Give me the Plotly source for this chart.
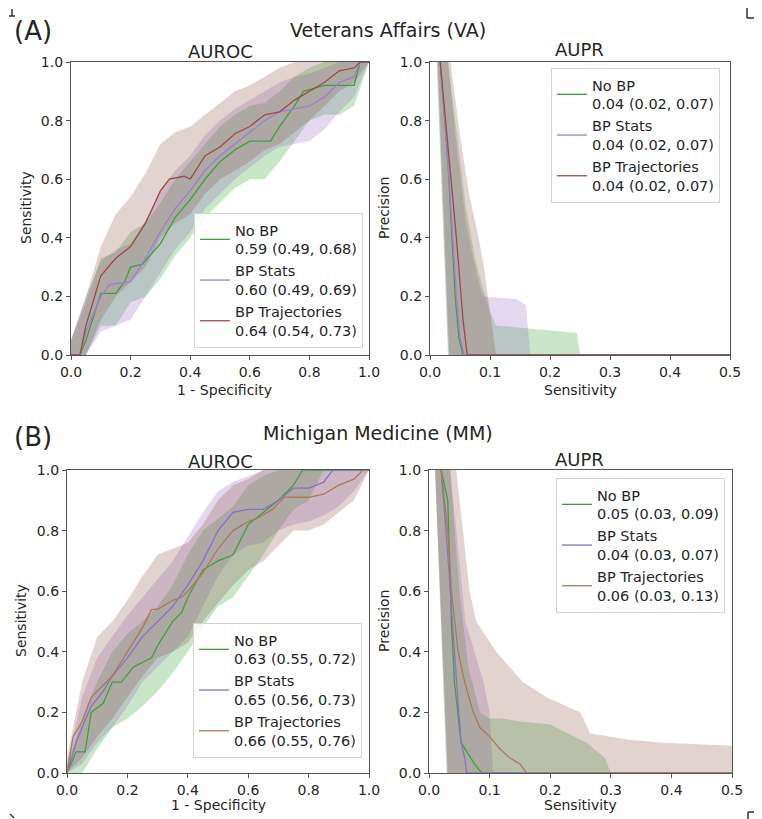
import plotly.graph_objects as go

# ---------------- data ----------------
series_names = ["No BP", "BP Stats", "BP Trajectories"]
va_roc_auc = ["0.59 (0.49, 0.68)", "0.60 (0.49, 0.69)", "0.64 (0.54, 0.73)"]
va_pr_auc = ["0.04 (0.02, 0.07)", "0.04 (0.02, 0.07)", "0.04 (0.02, 0.07)"]
mm_roc_auc = ["0.63 (0.55, 0.72)", "0.65 (0.56, 0.73)", "0.66 (0.55, 0.76)"]
mm_pr_auc = ["0.05 (0.03, 0.09)", "0.04 (0.03, 0.07)", "0.06 (0.03, 0.13)"]

fpr_grid = [0, 0.05, 0.1, 0.15, 0.2, 0.25, 0.3, 0.35, 0.4, 0.45, 0.5,
            0.55, 0.6, 0.65, 0.7, 0.75, 0.8, 0.85, 0.9, 0.95, 1.0]

# VA ROC curves
va_roc_nobp_x = [0, 0.03, 0.05, 0.08, 0.1, 0.15, 0.18, 0.2, 0.24, 0.3, 0.35, 0.4, 0.45, 0.5, 0.55, 0.6, 0.67, 0.7, 0.75, 0.78, 0.85, 0.95, 0.97, 1.0]
va_roc_nobp_y = [0, 0, 0.05, 0.15, 0.21, 0.21, 0.25, 0.3, 0.31, 0.38, 0.47, 0.53, 0.6, 0.66, 0.7, 0.73, 0.73, 0.78, 0.85, 0.9, 0.92, 0.92, 1.0, 1.0]
va_roc_stats_x = [0, 0.03, 0.05, 0.1, 0.13, 0.2, 0.25, 0.3, 0.35, 0.4, 0.45, 0.5, 0.55, 0.6, 0.65, 0.7, 0.75, 0.8, 0.85, 0.9, 0.95, 0.97, 1.0]
va_roc_stats_y = [0, 0, 0.08, 0.2, 0.24, 0.25, 0.33, 0.42, 0.5, 0.56, 0.63, 0.68, 0.72, 0.76, 0.8, 0.83, 0.84, 0.85, 0.88, 0.93, 0.95, 1.0, 1.0]
va_roc_traj_x = [0, 0.03, 0.05, 0.1, 0.15, 0.2, 0.25, 0.3, 0.33, 0.38, 0.4, 0.45, 0.5, 0.55, 0.6, 0.65, 0.7, 0.75, 0.8, 0.85, 0.9, 0.95, 0.97, 1.0]
va_roc_traj_y = [0, 0, 0.1, 0.27, 0.33, 0.37, 0.45, 0.56, 0.6, 0.61, 0.6, 0.68, 0.71, 0.755, 0.78, 0.82, 0.83, 0.87, 0.9, 0.93, 0.97, 0.98, 1.0, 1.0]
va_roc_nobp_lo = [0, 0, 0.1, 0.1, 0.18, 0.2, 0.26, 0.34, 0.4, 0.47, 0.52, 0.57, 0.6, 0.6, 0.66, 0.73, 0.8, 0.82, 0.82, 0.85, 1.0]
va_roc_nobp_hi = [0.05, 0.18, 0.33, 0.35, 0.42, 0.45, 0.52, 0.6, 0.66, 0.72, 0.78, 0.82, 0.85, 0.86, 0.9, 0.95, 0.98, 1, 1, 1, 1]
va_roc_stats_lo = [0, 0, 0.08, 0.1, 0.12, 0.2, 0.28, 0.36, 0.42, 0.5, 0.55, 0.6, 0.64, 0.68, 0.71, 0.72, 0.73, 0.77, 0.83, 0.88, 1.0]
va_roc_stats_hi = [0.05, 0.2, 0.32, 0.36, 0.38, 0.46, 0.56, 0.63, 0.68, 0.75, 0.8, 0.84, 0.87, 0.9, 0.93, 0.95, 0.96, 0.98, 1, 1, 1]
va_roc_traj_lo = [0, 0, 0.12, 0.2, 0.25, 0.3, 0.4, 0.45, 0.48, 0.55, 0.6, 0.63, 0.66, 0.7, 0.72, 0.76, 0.8, 0.85, 0.9, 0.93, 1.0]
va_roc_traj_hi = [0.05, 0.2, 0.37, 0.48, 0.54, 0.62, 0.72, 0.76, 0.78, 0.82, 0.86, 0.9, 0.92, 0.95, 0.98, 1, 1, 1, 1, 1, 1]

# VA PR curves
va_pr_nobp_x = [0.017, 0.03, 0.042, 0.048, 0.055, 0.5]
va_pr_nobp_y = [1.0, 0.65, 0.2, 0.06, 0.0, 0.0]
va_pr_stats_x = [0.017, 0.03, 0.044, 0.05, 0.057, 0.5]
va_pr_stats_y = [1.0, 0.66, 0.2, 0.06, 0.0, 0.0]
va_pr_traj_x = [0.017, 0.03, 0.044, 0.055, 0.062, 0.5]
va_pr_traj_y = [1.0, 0.72, 0.4, 0.12, 0.0, 0.0]
va_pr_nobp_hi_x = [0.011, 0.03, 0.045, 0.06, 0.075, 0.085, 0.1, 0.11, 0.17, 0.2, 0.245, 0.25, 0.5]
va_pr_nobp_hi_y = [1.0, 1.0, 0.75, 0.5, 0.33, 0.25, 0.15, 0.1, 0.09, 0.085, 0.075, 0.0, 0.0]
va_pr_nobp_lo_x = [0.011, 0.03, 0.5]
va_pr_nobp_lo_y = [1.0, 0.0, 0.0]
va_pr_stats_hi_x = [0.012, 0.03, 0.045, 0.06, 0.075, 0.085, 0.09, 0.145, 0.16, 0.167, 0.5]
va_pr_stats_hi_y = [1.0, 1.0, 0.7, 0.45, 0.3, 0.22, 0.2, 0.19, 0.17, 0.0, 0.0]
va_pr_stats_lo_x = [0.012, 0.031, 0.5]
va_pr_stats_lo_y = [1.0, 0.0, 0.0]
va_pr_traj_hi_x = [0.013, 0.034, 0.05, 0.065, 0.08, 0.09, 0.097, 0.11, 0.5]
va_pr_traj_hi_y = [1.0, 1.0, 0.75, 0.55, 0.41, 0.3, 0.19, 0.0, 0.0]
va_pr_traj_lo_x = [0.013, 0.032, 0.5]
va_pr_traj_lo_y = [1.0, 0.0, 0.0]

# MM ROC curves
mm_roc_nobp_x = [0, 0.03, 0.06, 0.08, 0.12, 0.15, 0.18, 0.22, 0.28, 0.3, 0.35, 0.38, 0.4, 0.45, 0.5, 0.55, 0.6, 0.65, 0.7, 0.75, 0.78, 1.0]
mm_roc_nobp_y = [0, 0.07, 0.07, 0.2, 0.23, 0.3, 0.3, 0.35, 0.38, 0.42, 0.5, 0.53, 0.58, 0.67, 0.7, 0.72, 0.82, 0.86, 0.9, 0.95, 1.0, 1.0]
mm_roc_stats_x = [0, 0.03, 0.05, 0.08, 0.12, 0.15, 0.2, 0.25, 0.3, 0.35, 0.4, 0.45, 0.5, 0.55, 0.6, 0.65, 0.7, 0.75, 0.8, 0.85, 0.88, 1.0]
mm_roc_stats_y = [0, 0.1, 0.15, 0.22, 0.27, 0.32, 0.38, 0.45, 0.5, 0.55, 0.62, 0.7, 0.8, 0.86, 0.87, 0.87, 0.9, 0.94, 0.94, 0.96, 1.0, 1.0]
mm_roc_traj_x = [0, 0.02, 0.05, 0.08, 0.1, 0.15, 0.2, 0.25, 0.28, 0.3, 0.35, 0.38, 0.4, 0.45, 0.5, 0.55, 0.6, 0.63, 0.68, 0.72, 0.8, 0.85, 0.9, 0.95, 0.98, 1.0]
mm_roc_traj_y = [0, 0.12, 0.17, 0.25, 0.27, 0.32, 0.4, 0.48, 0.54, 0.54, 0.57, 0.58, 0.6, 0.66, 0.74, 0.8, 0.83, 0.84, 0.87, 0.91, 0.91, 0.92, 0.95, 0.97, 1.0, 1.0]
mm_roc_nobp_lo = [0, 0, 0.08, 0.15, 0.18, 0.22, 0.27, 0.33, 0.4, 0.48, 0.55, 0.58, 0.65, 0.72, 0.8, 0.87, 0.9, 1, 1, 1, 1]
mm_roc_nobp_hi = [0.02, 0.18, 0.3, 0.4, 0.46, 0.5, 0.55, 0.62, 0.72, 0.8, 0.84, 0.88, 0.95, 0.98, 1, 1, 1, 1, 1, 1, 1]
mm_roc_stats_lo = [0, 0.03, 0.1, 0.15, 0.22, 0.3, 0.35, 0.4, 0.45, 0.55, 0.65, 0.72, 0.75, 0.76, 0.8, 0.82, 0.83, 0.85, 0.88, 0.93, 1.0]
mm_roc_stats_hi = [0.03, 0.25, 0.38, 0.45, 0.52, 0.58, 0.64, 0.7, 0.78, 0.86, 0.93, 0.96, 0.98, 1, 1, 1, 1, 1, 1, 1, 1]
mm_roc_traj_lo = [0, 0.05, 0.12, 0.18, 0.25, 0.32, 0.38, 0.4, 0.43, 0.5, 0.56, 0.62, 0.67, 0.7, 0.75, 0.8, 0.8, 0.82, 0.86, 0.9, 1.0]
mm_roc_traj_hi = [0.05, 0.3, 0.45, 0.5, 0.57, 0.65, 0.72, 0.74, 0.76, 0.82, 0.9, 0.95, 0.97, 1, 1, 1, 1, 1, 1, 1, 1]

# MM PR curves
mm_pr_nobp_x = [0.02, 0.031, 0.037, 0.042, 0.053, 0.062, 0.075, 0.087, 0.5]
mm_pr_nobp_y = [1.0, 0.9, 0.5, 0.3, 0.1, 0.07, 0.03, 0.0, 0.0]
mm_pr_stats_x = [0.02, 0.03, 0.042, 0.053, 0.059, 0.062, 0.5]
mm_pr_stats_y = [1.0, 0.75, 0.4, 0.1, 0.05, 0.0, 0.0]
mm_pr_traj_x = [0.02, 0.031, 0.037, 0.048, 0.059, 0.073, 0.084, 0.1, 0.117, 0.133, 0.15, 0.161, 0.5]
mm_pr_traj_y = [1.0, 0.8, 0.6, 0.4, 0.3, 0.2, 0.15, 0.12, 0.08, 0.05, 0.03, 0.0, 0.0]
mm_pr_nobp_hi_x = [0.01, 0.035, 0.05, 0.065, 0.084, 0.1, 0.12, 0.15, 0.2, 0.23, 0.26, 0.29, 0.3, 0.5]
mm_pr_nobp_hi_y = [1.0, 1.0, 0.6, 0.35, 0.2, 0.18, 0.18, 0.17, 0.16, 0.13, 0.1, 0.05, 0.0, 0.0]
mm_pr_nobp_lo_x = [0.01, 0.029, 0.5]
mm_pr_nobp_lo_y = [1.0, 0.0, 0.0]
mm_pr_stats_hi_x = [0.01, 0.035, 0.05, 0.06, 0.075, 0.09, 0.1, 0.106, 0.5]
mm_pr_stats_hi_y = [1.0, 1.0, 0.7, 0.5, 0.4, 0.3, 0.2, 0.0, 0.0]
mm_pr_stats_lo_x = [0.01, 0.03, 0.5]
mm_pr_stats_lo_y = [1.0, 0.0, 0.0]
mm_pr_traj_hi_x = [0.01, 0.045, 0.056, 0.067, 0.078, 0.095, 0.111, 0.155, 0.194, 0.227, 0.25, 0.266, 0.33, 0.387, 0.5]
mm_pr_traj_hi_y = [1.0, 1.0, 0.8, 0.6, 0.5, 0.45, 0.4, 0.3, 0.25, 0.22, 0.2, 0.13, 0.11, 0.1, 0.09]
mm_pr_traj_lo_x = [0.01, 0.031, 0.5]
mm_pr_traj_lo_y = [1.0, 0.0, 0.0]

# ---------------- styling ----------------
W, H = 762, 819
OFF = 8  # page body margin of the html page
TXT = "#262626"
AX = "#555555"
FONT = "DejaVu Sans"
line_colors_va = ["#3f9f3f", "#9a80d0", "#a04848"]
line_colors_mm = ["#3f9f3f", "#8a70c8", "#a87a5a"]
fill_colors = ["rgba(44,160,44,0.26)", "rgba(148,103,189,0.26)", "rgba(140,86,75,0.26)"]


def px(x):
    return (x - OFF) / W


def py(y):
    return 1 - (y - OFF) / H


fig = go.Figure()


def add_band(xh, yh, xl, yl, color, xa, ya):
    fig.add_trace(go.Scatter(
        x=list(xh) + list(xl)[::-1], y=list(yh) + list(yl)[::-1],
        fill="toself", fillcolor=color, mode="lines", line=dict(width=0),
        hoverinfo="skip", showlegend=False, xaxis=xa, yaxis=ya))


def add_line(x, y, color, name, legend, xa, ya):
    fig.add_trace(go.Scatter(
        x=x, y=y, mode="lines", line=dict(color=color, width=1.3),
        name=name, legend=legend, showlegend=True, xaxis=xa, yaxis=ya))


# Panel A - AUROC
roc_va = [(va_roc_nobp_x, va_roc_nobp_y, va_roc_nobp_lo, va_roc_nobp_hi),
          (va_roc_stats_x, va_roc_stats_y, va_roc_stats_lo, va_roc_stats_hi),
          (va_roc_traj_x, va_roc_traj_y, va_roc_traj_lo, va_roc_traj_hi)]
for i, (x, y, lo, hi) in enumerate(roc_va):
    add_band(fpr_grid, hi, fpr_grid, lo, fill_colors[i], "x", "y")
for i, (x, y, lo, hi) in enumerate(roc_va):
    add_line(x, y, line_colors_va[i], series_names[i] + "<br>" + va_roc_auc[i], "legend", "x", "y")

# Panel A - AUPR
pr_va = [(va_pr_nobp_x, va_pr_nobp_y, va_pr_nobp_hi_x, va_pr_nobp_hi_y, va_pr_nobp_lo_x, va_pr_nobp_lo_y),
         (va_pr_stats_x, va_pr_stats_y, va_pr_stats_hi_x, va_pr_stats_hi_y, va_pr_stats_lo_x, va_pr_stats_lo_y),
         (va_pr_traj_x, va_pr_traj_y, va_pr_traj_hi_x, va_pr_traj_hi_y, va_pr_traj_lo_x, va_pr_traj_lo_y)]
for i, s in enumerate(pr_va):
    add_band(s[2], s[3], s[4], s[5], fill_colors[i], "x2", "y2")
for i, s in enumerate(pr_va):
    add_line(s[0], s[1], line_colors_va[i], series_names[i] + "<br>" + va_pr_auc[i], "legend2", "x2", "y2")

# Panel B - AUROC
roc_mm = [(mm_roc_nobp_x, mm_roc_nobp_y, mm_roc_nobp_lo, mm_roc_nobp_hi),
          (mm_roc_stats_x, mm_roc_stats_y, mm_roc_stats_lo, mm_roc_stats_hi),
          (mm_roc_traj_x, mm_roc_traj_y, mm_roc_traj_lo, mm_roc_traj_hi)]
for i, (x, y, lo, hi) in enumerate(roc_mm):
    add_band(fpr_grid, hi, fpr_grid, lo, fill_colors[i], "x3", "y3")
for i, (x, y, lo, hi) in enumerate(roc_mm):
    add_line(x, y, line_colors_mm[i], series_names[i] + "<br>" + mm_roc_auc[i], "legend3", "x3", "y3")

# Panel B - AUPR
pr_mm = [(mm_pr_nobp_x, mm_pr_nobp_y, mm_pr_nobp_hi_x, mm_pr_nobp_hi_y, mm_pr_nobp_lo_x, mm_pr_nobp_lo_y),
         (mm_pr_stats_x, mm_pr_stats_y, mm_pr_stats_hi_x, mm_pr_stats_hi_y, mm_pr_stats_lo_x, mm_pr_stats_lo_y),
         (mm_pr_traj_x, mm_pr_traj_y, mm_pr_traj_hi_x, mm_pr_traj_hi_y, mm_pr_traj_lo_x, mm_pr_traj_lo_y)]
for i, s in enumerate(pr_mm):
    add_band(s[2], s[3], s[4], s[5], fill_colors[i], "x4", "y4")
for i, s in enumerate(pr_mm):
    add_line(s[0], s[1], line_colors_mm[i], series_names[i] + "<br>" + mm_pr_auc[i], "legend4", "x4", "y4")


def axis(domain, rng, dtick, anchor):
    return dict(domain=domain, range=rng, dtick=dtick, tick0=0, anchor=anchor,
                showline=True, mirror=True, linecolor=AX, linewidth=1.2,
                ticks="outside", ticklen=4, tickcolor=AX, tickwidth=1,
                showgrid=False, zeroline=False, tickformat=".1f",
                tickfont=dict(family=FONT, size=14, color=TXT), automargin=False)


ya_dom = [py(355), py(62)]
yb_dom = [py(773), py(470)]
fig.update_layout(
    xaxis=axis([px(71), px(369)], [0, 1], 0.2, "y"),
    yaxis=axis(ya_dom, [0, 1], 0.2, "x"),
    xaxis2=axis([px(430), px(730)], [0, 0.5], 0.1, "y2"),
    yaxis2=axis(ya_dom, [0, 1], 0.2, "x2"),
    xaxis3=axis([px(67), px(369)], [0, 1], 0.2, "y3"),
    yaxis3=axis(yb_dom, [0, 1], 0.2, "x3"),
    xaxis4=axis([px(429), px(732)], [0, 0.5], 0.1, "y4"),
    yaxis4=axis(yb_dom, [0, 1], 0.2, "x4"),
)

leg = dict(bgcolor="rgba(255,255,255,0.85)", bordercolor="#d4d4d4", borderwidth=1,
           font=dict(family=FONT, size=14.5, color=TXT), valign="middle", tracegroupgap=0)
fig.update_layout(
    legend=dict(leg, x=px(363), y=py(348), xanchor="right", yanchor="bottom"),
    legend2=dict(leg, x=px(720), y=py(68), xanchor="right", yanchor="top"),
    legend3=dict(leg, x=px(362), y=py(758), xanchor="right", yanchor="bottom"),
    legend4=dict(leg, x=px(725), y=py(478), xanchor="right", yanchor="top"),
)


def ann(text, x, y, size, angle=0):
    fig.add_annotation(text=text, x=px(x), y=py(y), xref="paper", yref="paper",
                       showarrow=False, textangle=angle, xanchor="center", yanchor="middle",
                       font=dict(family=FONT, size=size, color=TXT))


ann("(A)", 33, 31, 26)
ann("Veterans Affairs (VA)", 388, 30, 19)
ann("AUROC", 220, 51, 18)
ann("AUPR", 579, 49, 18)
ann("1 - Specificity", 224, 390, 14)
ann("Sensitivity", 580, 390, 14)
ann("Sensitivity", 26, 208, 14, -90)
ann("Precision", 384, 208, 14, -90)

ann("(B)", 33, 437, 26)
ann("Michigan Medicine (MM)", 378, 433, 19)
ann("AUROC", 220, 461, 18)
ann("AUPR", 579, 459, 18)
ann("1 - Specificity", 218, 805, 14)
ann("Sensitivity", 580, 805, 14)
ann("Sensitivity", 21, 621, 14, -90)
ann("Precision", 384, 621, 14, -90)

# crop marks
marks = [((12, 9), (12, 16)), ((9, 16), (15, 16)),
         ((747, 8), (747, 18)), ((747, 18), (760, 18)),
         ((748, 812), (762, 812)), ((748, 812), (748, 819)),
         ((10, 814), (14, 818))]
for (x0, y0), (x1, y1) in marks:
    fig.add_shape(type="line", xref="paper", yref="paper",
                  x0=px(x0), y0=py(y0), x1=px(x1), y1=py(y1),
                  line=dict(color="#333333", width=1.5))

fig.update_layout(width=W, height=H, margin=dict(l=0, r=0, t=0, b=0),
                  paper_bgcolor="white", plot_bgcolor="white",
                  font=dict(family=FONT, color=TXT), template="none",
                  hovermode=False)

fig.write_html("out.html")
